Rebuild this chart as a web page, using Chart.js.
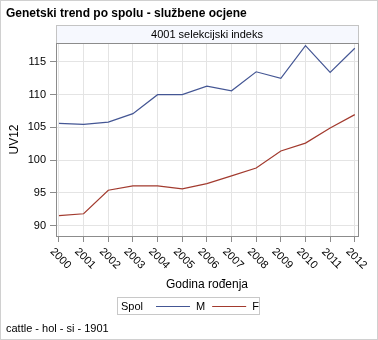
<!DOCTYPE html>
<html>
<head>
<meta charset="utf-8">
<script src="https://cdn.jsdelivr.net/npm/chart.js@4/dist/chart.umd.min.js"></script>
<style>
  html, body { margin: 0; padding: 0; background: #fff; }
  #wrap { width: 378px; height: 340px; }
</style>
</head>
<body>
<div id="wrap"><canvas id="trendChart" width="378" height="340"></canvas></div>
<script>
const years = [2000, 2001, 2002, 2003, 2004, 2005, 2006, 2007, 2008, 2009, 2010, 2011, 2012];
const maleValues = [105.6, 105.45, 105.8, 107.1, 110.0, 110.0, 111.3, 110.6, 113.5, 112.5, 117.5, 113.4, 117.1];
const femaleValues = [91.5, 91.8, 95.4, 96.05, 96.05, 95.6, 96.4, 97.6, 98.8, 101.4, 102.6, 104.9, 106.95];
const yTicks = [90, 95, 100, 105, 110, 115];
const seriesNames = ['M', 'F'];

const FONT = 'Arial, "Liberation Sans", sans-serif';
const AXIS_GRAY = '#8c8c8c';
const GRID_GRAY = '#e4e4e4';

Chart.defaults.font.family = FONT;
Chart.defaults.color = '#000';

// header strip, plot frame, rotated year labels, legend and footnote
const decorPlugin = {
  id: 'decor',
  afterDraw(chart) {
    const { ctx, chartArea: area } = chart;
    const xScale = chart.scales.x;
    ctx.save();

    // outer border
    ctx.strokeStyle = '#d0d0d0';
    ctx.lineWidth = 1;
    ctx.strokeRect(0.5, 0.5, 377, 339);

    // header box
    const hTop = Math.round(area.top) - 18;
    ctx.fillStyle = '#f6f8fe';
    ctx.fillRect(area.left, hTop, area.right - area.left, 18);
    ctx.strokeStyle = '#c4c4c4';
    ctx.strokeRect(Math.round(area.left) + 0.5, hTop + 0.5, Math.round(area.right - area.left), 18);
    ctx.fillStyle = '#000';
    ctx.font = '11px ' + FONT;
    ctx.textAlign = 'center';
    ctx.textBaseline = 'middle';
    ctx.fillText('4001 selekcijski indeks', (area.left + area.right) / 2, hTop + 9.5);

    // plot frame
    ctx.strokeStyle = AXIS_GRAY;
    ctx.strokeRect(Math.round(area.left) + 0.5, Math.round(area.top) + 0.5,
      Math.round(area.right - area.left), Math.round(area.bottom - area.top));

    // x tick labels rotated clockwise
    ctx.fillStyle = '#000';
    ctx.font = '11px ' + FONT;
    years.forEach(yr => {
      const px = xScale.getPixelForValue(yr);
      ctx.save();
      ctx.translate(px + 1.5, area.bottom + 22.5);
      ctx.rotate(Math.PI / 4);
      ctx.textAlign = 'center';
      ctx.textBaseline = 'middle';
      ctx.fillText(String(yr), 0, 0);
      ctx.restore();
    });

    // legend
    ctx.strokeStyle = '#c8c8c8';
    ctx.strokeRect(117.5, 297.5, 142, 17);
    ctx.textAlign = 'left';
    ctx.textBaseline = 'middle';
    ctx.fillStyle = '#000';
    ctx.fillText('Spol', 121, 306.5);
    let lx = 156;
    chart.data.datasets.forEach(ds => {
      ctx.strokeStyle = ds.borderColor;
      ctx.lineWidth = 1.2;
      ctx.beginPath();
      ctx.moveTo(lx, 306.5);
      ctx.lineTo(lx + 34, 306.5);
      ctx.stroke();
      ctx.fillStyle = '#000';
      ctx.fillText(ds.label, lx + 40, 306.5);
      lx += 40 + ctx.measureText(ds.label).width + 7;
    });

    // footnote
    ctx.fillText('cattle - hol - si - 1901', 6, 329);
    ctx.restore();
  }
};

const toPoints = vals => years.map((yr, i) => ({ x: yr, y: vals[i] }));

new Chart(document.getElementById('trendChart'), {
  type: 'line',
  data: {
    datasets: [
      {
        label: seriesNames[0],
        data: toPoints(maleValues),
        borderColor: '#445694',
        borderWidth: 1.2,
        pointRadius: 0,
        tension: 0
      },
      {
        label: seriesNames[1],
        data: toPoints(femaleValues),
        borderColor: '#a23a2e',
        borderWidth: 1.2,
        pointRadius: 0,
        tension: 0
      }
    ]
  },
  options: {
    responsive: false,
    animation: false,
    events: [],
    layout: {
      padding: { left: 6, right: 20, top: 0, bottom: 48 }
    },
    plugins: {
      legend: { display: false },
      tooltip: { enabled: false },
      title: {
        display: true,
        text: 'Genetski trend po spolu - službene ocjene',
        align: 'start',
        color: '#000',
        font: { size: 12, weight: 'bold', lineHeight: 1.2 },
        padding: { top: 6, bottom: 22.6 }
      }
    },
    scales: {
      x: {
        type: 'linear',
        min: 1999.88,
        max: 2012.13,
        afterBuildTicks: scale => { scale.ticks = years.map(v => ({ value: v })); },
        afterFit: scale => { scale.height = 56; },
        ticks: { display: false },
        grid: { color: GRID_GRAY, tickColor: AXIS_GRAY, tickLength: 6, drawTicks: true },
        border: { color: AXIS_GRAY },
        title: {
          display: true,
          text: 'Godina rođenja',
          color: '#000',
          font: { size: 12, lineHeight: 1.2 },
          padding: { top: 0, bottom: 0 }
        }
      },
      y: {
        min: 88.4,
        max: 117.9,
        afterBuildTicks: scale => { scale.ticks = yTicks.map(v => ({ value: v })); },
        afterFit: scale => { scale.width = 50; },
        ticks: { color: '#000', font: { size: 11 }, padding: 4 },
        grid: { color: GRID_GRAY, tickColor: AXIS_GRAY, tickLength: 6, drawTicks: true },
        border: { color: AXIS_GRAY },
        title: {
          display: true,
          text: 'UV12',
          color: '#000',
          font: { size: 12, lineHeight: 1.2 },
          padding: { top: 1, bottom: 0 }
        }
      }
    }
  },
  plugins: [decorPlugin]
});
</script>
</body>
</html>
